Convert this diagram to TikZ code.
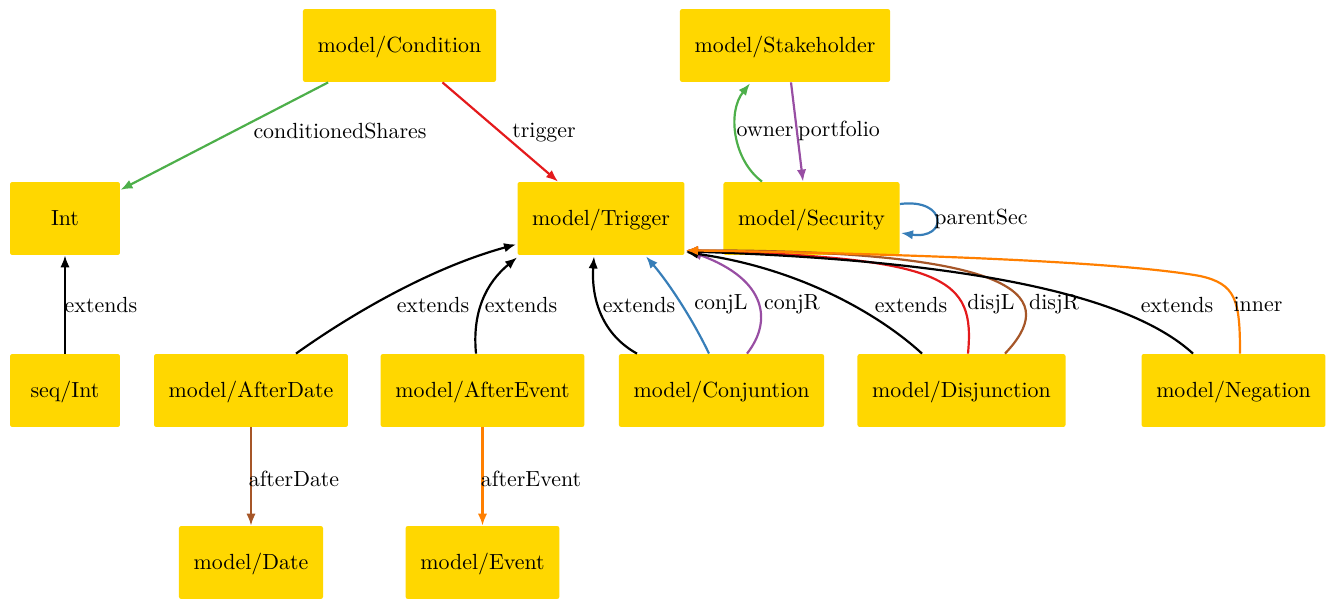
\documentclass[tikz,border=0pt]{standalone}
\usetikzlibrary{arrows.meta,calc}
\definecolor{boxfill}{HTML}{FFD700}
\definecolor{cred}{HTML}{E41A1C}
\definecolor{cblue}{HTML}{377EB8}
\definecolor{cgreen}{HTML}{4DAF4A}
\definecolor{cpurple}{HTML}{984EA3}
\definecolor{corange}{HTML}{FF7F00}
\definecolor{cbrown}{HTML}{A65628}
\tikzset{box/.style={fill=boxfill,rounded corners=1pt,minimum width=50.2pt,minimum height=33.3pt,inner xsep=6.7pt,text height=7pt,text depth=1pt},arrow/.style={-{Latex[length=5.5pt,width=4.3pt]},line width=1pt},lab/.style={anchor=base,inner sep=0pt}}

\begin{document}
\begin{tikzpicture}[x=0.4566pt,y=-0.4566pt]
\useasboundingbox (0,0) rectangle (1334,599);
\node[box] (cond) at (399.5,45.5) {model/Condition};
\node[box] (stake) at (785,45.5) {model/Stakeholder};
\node[box] (int) at (65,218.5) {Int};
\node[box] (trig) at (601,218.5) {model/Trigger};
\node[box] (sec) at (811.5,218.5) {model/Security};
\node[box] (seqint) at (65,390.5) {seq/Int};
\node[box] (aftd) at (251,390.5) {model/AfterDate};
\node[box] (afte) at (482.5,390.5) {model/AfterEvent};
\node[box] (conj) at (721.5,390.5) {model/Conjuntion};
\node[box] (disj) at (961.5,390.5) {model/Disjunction};
\node[box] (neg) at (1233.5,390.5) {model/Negation};
\node[box] (date) at (251,562.5) {model/Date};
\node[box] (event) at (482.5,562.5) {model/Event};
% top part
\draw[arrow,cgreen](cond)--(int);
\draw[arrow,cred](cond)--(trig);
\draw[arrow,cgreen]($(sec.north)+(-49.5,0)$) .. controls (733,160) and (727,112) .. ($(stake.south)+(-35,1)$);
\draw[arrow,cpurple]($(stake.south)+(6,0)$)--($(sec.north)+(-8.5,0)$);
\draw[arrow,cblue]($(sec.east)+(0,-14.5)$) .. controls (948,198) and (948,240) .. ($(sec.east)+(1,14.5)$);
\draw[arrow](seqint)--(int);
% into model/Trigger
\draw[arrow]($(aftd.north)+(45,0)$) .. controls (350,315) and (430,268) .. ($(trig.south west)+(-1,-11)$);
\draw[arrow]($(afte.north)+(-6.5,0)$) .. controls (472,312) and (486,283) .. ($(trig.south west)+(0,2)$);
\draw[arrow]($(conj.north)+(-84.5,0)$) .. controls (603,335) and (591,300) .. ($(trig.south)+(-7,1)$);
\draw[arrow,cblue]($(conj.north)+(-12.5,0)$) .. controls (692,318) and (668,282) .. ($(trig.south)+(45,1)$);
\draw[arrow,cpurple]($(conj.north)+(25.5,0)$) .. controls (772,322) and (768,280) .. ($(trig.south east)+(5,-4)$);
\draw[arrow]($(disj.north)+(-39.5,0)$) .. controls (880,315) and (800,268) .. ($(trig.south east)+(1,-3)$);
\draw[arrow,cred]($(disj.north)+(6.5,0)$) .. controls (975,278) and (948,258) .. ($(trig.south east)+(1,-5)$);
\draw[arrow,cbrown]($(disj.north)+(43.5,0)$) .. controls (1056,300) and (1036,250) .. ($(trig.south east)+(1,-5)$);
\draw[arrow]($(neg.north)+(-40.5,0)$) .. controls (1140,305) and (1010,262) .. ($(trig.south east)+(1,-4)$);
\draw[arrow,corange]($(neg.north)+(6.5,0)$) .. controls (1240,300) and (1236,284) .. (1200,276) .. controls (1100,258) and (800,252) .. ($(trig.south east)+(1,-5)$);
% bottom part
\draw[arrow,cbrown](aftd)--(date);
\draw[arrow,corange](afte)--(event);
% labels
\node[lab] (lcs) at (340,139) {conditionedShares};
\node[lab] (ltr) at (544,138) {trigger};
\node[lab] (low) at (765,137) {owner};
\node[lab] (lpf) at (839,137) {portfolio};
\node[lab] (lps) at (981,225) {parentSec};
\node[lab] (lx1) at (101,313) {extends};
\node[lab] (lx2) at (433,313) {extends};
\node[lab] (lx3) at (521,313) {extends};
\node[lab] (lx4) at (639,313) {extends};
\node[lab] (lcl) at (721,310) {conjL};
\node[lab] (lcr) at (792,310) {conjR};
\node[lab] (lx5) at (911,313) {extends};
\node[lab] (ldl) at (991,310) {disjL};
\node[lab] (ldr) at (1054,310) {disjR};
\node[lab] (lx6) at (1177,313) {extends};
\node[lab] (lin) at (1258,312) {inner};
\node[lab] (lad) at (294,486) {afterDate};
\node[lab] (lae) at (531,486) {afterEvent};
\end{tikzpicture}
\end{document}
